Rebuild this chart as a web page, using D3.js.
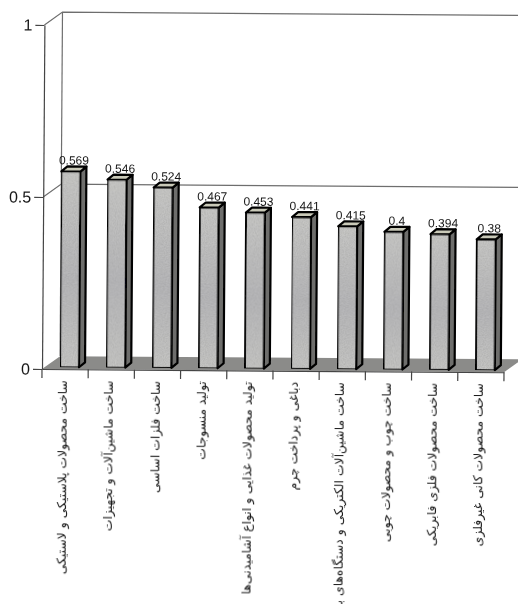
<!DOCTYPE html>
<html>
<head>
<meta charset="utf-8">
<script src="https://cdnjs.cloudflare.com/ajax/libs/d3/7.8.5/d3.min.js"></script>
<style>
html, body { margin: 0; padding: 0; background: #fff; overflow: hidden; }
text { fill: #161616; }
</style>
</head>
<body>
<svg id="chart" width="518" height="604"></svg>
<script>
const categories = [
    'ساخت محصولات پلاستیکی و لاستیکی',
    'ساخت ماشین‌آلات و تجهیزات',
    'ساخت فلزات اساسی',
    'تولید منسوجات',
    'تولید محصولات غذایی و انواع آشامیدنی‌ها',
    'دباغی و پرداخت چرم',
    'ساخت ماشین‌آلات الکتریکی و دستگاه‌های برقی',
    'ساخت چوب و محصولات چوبی',
    'ساخت محصولات فلزی فابریکی',
    'ساخت محصولات کانی غیرفلزی'
];
const values = [0.569, 0.546, 0.524, 0.467, 0.453, 0.441, 0.415, 0.4, 0.394, 0.38];
const valueLabels = ['0.569', '0.546', '0.524', '0.467', '0.453', '0.441', '0.415', '0.4', '0.394', '0.38'];
const yTicks = [0, 0.5, 1];

const svg = d3.select('#chart');
const defs = svg.append('defs');

// soft focus of the scan, on the whole page
const soft = defs.append('filter').attr('id', 'soft')
    .attr('filterUnits', 'userSpaceOnUse').attr('x', 0).attr('y', 0).attr('width', 518).attr('height', 604);
soft.append('feGaussianBlur').attr('stdDeviation', 0.4);

// the scan is slightly crooked, so everything hangs off this group
const originX = 42, originY = 369;
const g = svg.append('g').attr('filter', 'url(#soft)')
    .append('g').attr('transform', `rotate(0.4 ${originX} ${originY})`);

const x = d3.scaleBand().domain(categories).range([originX, 504]);
const y = d3.scaleLinear().domain([0, 1]).range([originY, 25]);

// depth of the fake 3d box and of one bar
const wallDx = 18, wallDy = -13;
const barDx = 6, barDy = -5;
const barW = 19;
const wallColor = '#6e6e6e';

const grad = defs.append('linearGradient').attr('id', 'barFill').attr('x1', 0).attr('x2', 0).attr('y1', 0).attr('y2', 1);
grad.append('stop').attr('offset', '0%').attr('stop-color', '#c8c8c6');
grad.append('stop').attr('offset', '55%').attr('stop-color', '#b8b8ba');
grad.append('stop').attr('offset', '100%').attr('stop-color', '#c6c6c4');

// grain of the scan on the bars
const grain = defs.append('filter').attr('id', 'grain').attr('x', 0).attr('y', 0).attr('width', 1).attr('height', 1);
grain.append('feTurbulence').attr('type', 'fractalNoise').attr('baseFrequency', 0.9).attr('numOctaves', 2).attr('seed', 4).attr('result', 'n');
grain.append('feColorMatrix').attr('in', 'n').attr('type', 'matrix')
    .attr('values', '0 0 0 0 0  0 0 0 0 0  0 0 0 0 0  0 0 0 0.35 -0.1').attr('result', 'd');
grain.append('feComposite').attr('in', 'd').attr('in2', 'SourceGraphic').attr('operator', 'in').attr('result', 'c');
const fm = grain.append('feMerge');
fm.append('feMergeNode').attr('in', 'SourceGraphic');
fm.append('feMergeNode').attr('in', 'c');

// floor
const rightEnd = x.range()[1];
g.append('path')
    .attr('d', d3.line()([
        [originX, y(0)], [originX + wallDx, y(0) + wallDy],
        [rightEnd + wallDx, y(0) + wallDy], [rightEnd, y(0)]
    ]) + 'Z')
    .attr('fill', '#8b8b89');

// back wall and its grid lines
const wall = g.append('g').attr('fill', 'none').attr('stroke', wallColor).attr('stroke-width', 1.2);
wall.append('line')
    .attr('x1', originX + wallDx).attr('x2', originX + wallDx)
    .attr('y1', y(1) + wallDy).attr('y2', y(0) + wallDy);
yTicks.filter(d => d > 0).forEach(d => {
    wall.append('path').attr('d', d3.line()([
        [originX, y(d)], [originX + wallDx, y(d) + wallDy], [rightEnd + wallDx + 10, y(d) + wallDy]
    ]));
});

// axes
const yAxis = g.append('g')
    .attr('transform', `translate(${originX},0)`)
    .call(d3.axisLeft(y).tickValues(yTicks).tickFormat(d3.format('')).tickSize(9).tickSizeOuter(0));
yAxis.selectAll('text').attr('font-family', '"Liberation Sans", Arial, sans-serif').attr('font-size', 16).attr('x', -12);
yAxis.selectAll('line, path').attr('stroke', '#444').attr('stroke-width', 1.2);

const xAxis = g.append('g').attr('transform', `translate(0,${originY})`);
xAxis.call(d3.axisBottom(x).tickSize(0).tickSizeOuter(0).tickFormat(''));
xAxis.select('.domain').attr('stroke', '#444').attr('stroke-width', 1.2);
xAxis.selectAll('.sep').data(categories.concat(['end'])).join('line')
    .attr('class', 'sep')
    .attr('x1', (d, i) => i < categories.length ? x(d) : rightEnd)
    .attr('x2', (d, i) => i < categories.length ? x(d) : rightEnd)
    .attr('y1', 0).attr('y2', 9)
    .attr('stroke', '#444').attr('stroke-width', 1.2);

// category labels read downwards, rtl start at the top
xAxis.selectAll('.cat').data(categories).join('text')
    .attr('class', 'cat')
    .attr('transform', d => `translate(${x(d) + x.bandwidth() / 2 + 2},11) rotate(-90)`)
    .attr('direction', 'rtl')
    .attr('text-anchor', 'start')
    .attr('font-family', '"DejaVu Sans", sans-serif')
    .attr('font-size', 12.4)
    .text(d => d);

// bars
const bars = g.selectAll('.bar').data(categories).join('g').attr('class', 'bar')
    .attr('stroke', '#000').attr('stroke-width', 2.2).attr('stroke-linejoin', 'round');
const barBase = y(0) - 2;
const barLeft = d => x(d) + wallDx;
const barTop = (d, i) => barBase - (y(0) - y(values[i]));

bars.append('path')
    .attr('fill', '#6e6e6c')
    .attr('d', (d, i) => d3.line()([
        [barLeft(d) + barW, barTop(d, i)], [barLeft(d) + barW + barDx, barTop(d, i) + barDy],
        [barLeft(d) + barW + barDx, barBase + barDy], [barLeft(d) + barW, barBase]
    ]) + 'Z');
bars.append('path')
    .attr('fill', '#c9c9b8')
    .attr('d', (d, i) => d3.line()([
        [barLeft(d), barTop(d, i)], [barLeft(d) + barDx, barTop(d, i) + barDy],
        [barLeft(d) + barW + barDx, barTop(d, i) + barDy], [barLeft(d) + barW, barTop(d, i)]
    ]) + 'Z');
bars.append('rect')
    .attr('x', barLeft)
    .attr('y', barTop)
    .attr('width', barW)
    .attr('height', (d, i) => barBase - barTop(d, i))
    .attr('fill', 'url(#barFill)')
    .attr('filter', 'url(#grain)');

// value labels
g.selectAll('.val').data(categories).join('text')
    .attr('class', 'val')
    .attr('x', d => barLeft(d) + barW / 2 + 3)
    .attr('y', (d, i) => barTop(d, i) + barDy - 2)
    .attr('text-anchor', 'middle')
    .attr('font-family', '"Liberation Sans", Arial, sans-serif')
    .attr('font-size', 12)
    .text((d, i) => valueLabels[i]);
</script>
</body>
</html>
